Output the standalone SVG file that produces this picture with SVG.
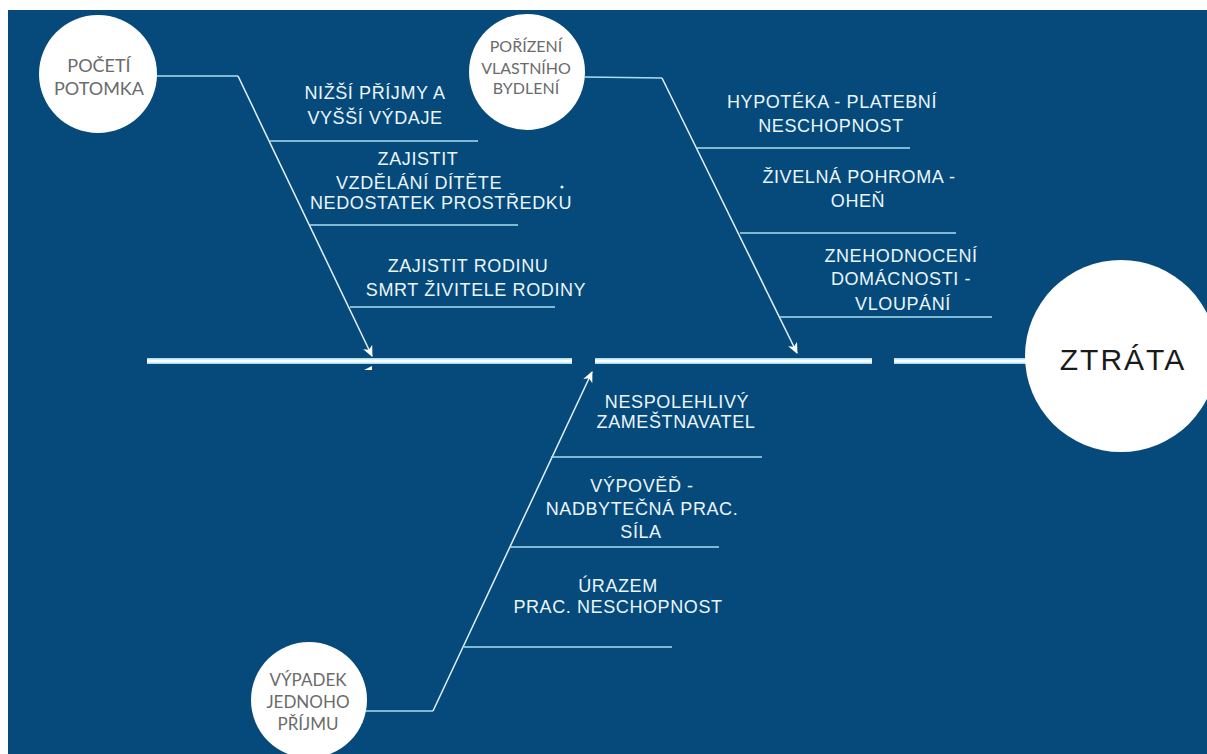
<svg xmlns="http://www.w3.org/2000/svg" width="1207" height="754" viewBox="0 0 1207 754">
  <defs>
    <marker id="arr" markerWidth="12" markerHeight="10" refX="10" refY="5" orient="auto" markerUnits="userSpaceOnUse">
      <path d="M0,0 L11,5 L0,10 L3,5 z" fill="#ffffff"/>
    </marker>
    <style>
      .bg { fill: #064a7b; }
      .circ { fill: #ffffff; }
      .ctext { font-family: Lato, "Liberation Sans", sans-serif; fill: #6b6b6b; text-anchor: middle; }
      .lbl { font-family: "Liberation Sans", Arial, sans-serif; font-size: 18px; letter-spacing: 0.6px; fill: #eaf6fb; text-anchor: middle; }
      .branch { stroke: #a9dff0; stroke-width: 1.5; fill: none; }
      .bone { stroke: #e4f2f8; stroke-width: 1.5; fill: none; }
      .spineOuter { stroke: #a9dff0; stroke-width: 6; fill: none; }
      .spineInner { stroke: #ffffff; stroke-width: 3; fill: none; }
    </style>
  </defs>

  <rect x="0" y="0" width="1207" height="754" fill="#ffffff"/>
  <rect class="bg" x="8" y="10" width="1199" height="744"/>

  <g id="connectors">
    <!-- spine -->
    <line class="spineOuter" x1="147" y1="361" x2="572" y2="361"/>
    <line class="spineOuter" x1="595" y1="361" x2="872" y2="361"/>
    <line class="spineOuter" x1="894" y1="361" x2="1030" y2="361"/>
    <line class="spineInner" x1="147" y1="361" x2="572" y2="361"/>
    <line class="spineInner" x1="595" y1="361" x2="872" y2="361"/>
    <line class="spineInner" x1="894" y1="361" x2="1030" y2="361"/>
    <!-- bones -->
    <line class="branch" x1="156" y1="76" x2="238" y2="76"/>
    <line class="bone" x1="238" y1="76" x2="372" y2="356" marker-end="url(#arr)"/>
    <line class="branch" x1="585" y1="77" x2="662" y2="78"/>
    <line class="bone" x1="662" y1="78" x2="797" y2="353" marker-end="url(#arr)"/>
    <line class="branch" x1="366" y1="711" x2="433" y2="711"/>
    <line class="bone" x1="433" y1="711" x2="592" y2="372" marker-end="url(#arr)"/>
    <polygon points="364,370 372,370 372,366" fill="#ffffff"/>
    <!-- branch lines top-left -->
    <line class="branch" x1="270" y1="141" x2="478" y2="141"/>
    <line class="branch" x1="310" y1="225" x2="518" y2="225"/>
    <line class="branch" x1="350" y1="307" x2="555" y2="307"/>
    <!-- branch lines top-right -->
    <line class="branch" x1="697" y1="148" x2="910" y2="148"/>
    <line class="branch" x1="740" y1="233" x2="956" y2="233"/>
    <line class="branch" x1="780" y1="317" x2="992" y2="317"/>
    <!-- branch lines bottom -->
    <line class="branch" x1="551" y1="457" x2="762" y2="457"/>
    <line class="branch" x1="510" y1="547" x2="719" y2="547"/>
    <line class="branch" x1="464" y1="647" x2="672" y2="647"/>
  </g>

  <g id="node-poceti">
    <circle class="circ" cx="98" cy="74" r="59"/>
    <text class="ctext" font-size="18" x="99" y="72">POČETÍ</text>
    <text class="ctext" font-size="18" x="99" y="95">POTOMKA</text>
  </g>

  <g id="node-porizeni">
    <circle class="circ" cx="527" cy="72" r="58"/>
    <text class="ctext" font-size="16" x="526" y="52">POŘÍZENÍ</text>
    <text class="ctext" font-size="16" x="526" y="74">VLASTNÍHO</text>
    <text class="ctext" font-size="16" x="526" y="94">BYDLENÍ</text>
  </g>

  <g id="node-vypadek">
    <circle class="circ" cx="309" cy="700" r="58"/>
    <text class="ctext" font-size="17" x="308" y="686">VÝPADEK</text>
    <text class="ctext" font-size="17" x="308" y="708">JEDNOHO</text>
    <text class="ctext" font-size="17" x="308" y="730">PŘÍJMU</text>
  </g>

  <g id="node-ztrata">
    <circle class="circ" cx="1121" cy="356" r="96"/>
    <text x="1123" y="370" font-family="Liberation Sans, Arial, sans-serif" font-size="30" letter-spacing="2" fill="#1a1a1a" text-anchor="middle">ZTRÁTA</text>
  </g>

  <g id="causes-potomek">
    <text class="lbl" x="375" y="99">NIŽŠÍ PŘÍJMY A</text>
    <text class="lbl" x="375" y="124">VYŠŠÍ VÝDAJE</text>
    <text class="lbl" x="418" y="165">ZAJISTIT</text>
    <text class="lbl" x="419" y="189">VZDĚLÁNÍ DÍTĚTE</text>
    <text class="lbl" x="441" y="209">NEDOSTATEK PROSTŘEDKU</text>
    <circle cx="562" cy="187" r="1.6" fill="#eaf6fb"/>
    <text class="lbl" x="468" y="272">ZAJISTIT RODINU</text>
    <text class="lbl" x="476" y="296">SMRT ŽIVITELE RODINY</text>
  </g>

  <g id="causes-bydleni">
    <text class="lbl" x="832" y="108">HYPOTÉKA - PLATEBNÍ</text>
    <text class="lbl" x="831" y="132">NESCHOPNOST</text>
    <text class="lbl" x="859" y="183">ŽIVELNÁ POHROMA -</text>
    <text class="lbl" x="858" y="207">OHEŇ</text>
    <text class="lbl" x="901" y="262">ZNEHODNOCENÍ</text>
    <text class="lbl" x="901" y="285">DOMÁCNOSTI -</text>
    <text class="lbl" x="903" y="310">VLOUPÁNÍ</text>
  </g>

  <g id="causes-prijem">
    <text class="lbl" x="677" y="408">NESPOLEHLIVÝ</text>
    <text class="lbl" x="676" y="428">ZAMEŠTNAVATEL</text>
    <text class="lbl" x="642" y="492">VÝPOVĚĎ -</text>
    <text class="lbl" x="642" y="515">NADBYTEČNÁ PRAC.</text>
    <text class="lbl" x="641" y="538">SÍLA</text>
    <text class="lbl" x="618" y="592">ÚRAZEM</text>
    <text class="lbl" x="618" y="613">PRAC. NESCHOPNOST</text>
  </g>
</svg>
